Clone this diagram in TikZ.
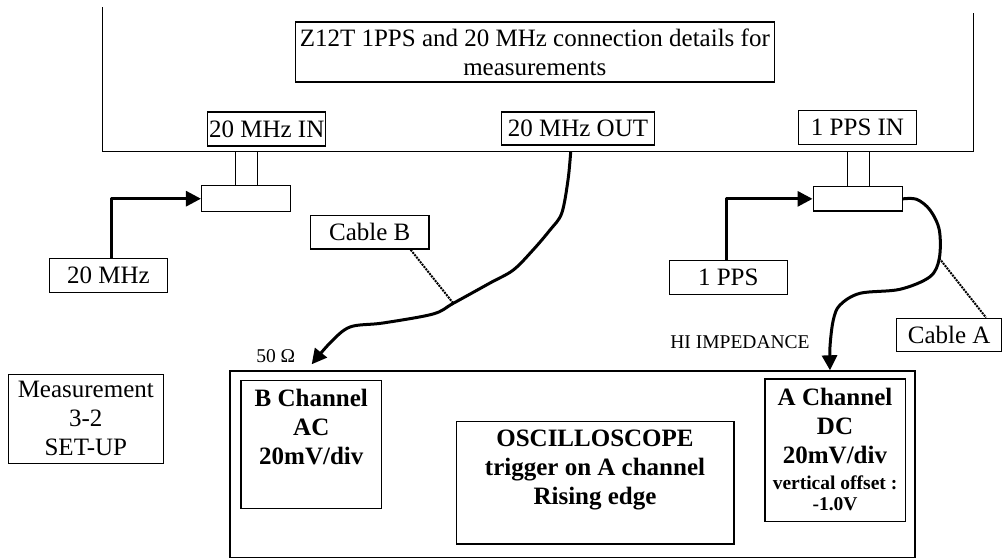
\documentclass[tikz,border=0pt]{standalone}
\usepackage{fontspec}
\setmainfont{Liberation Serif}
\usetikzlibrary{arrows.meta}
\begin{document}
\begin{tikzpicture}[x=1pt,y=-1pt,
  bx/.style={draw,line width=1.5pt,inner sep=0pt,rectangle,align=center,font=\fontsize{25}{29}\selectfont},
  txt/.style={inner sep=0pt,align=center,font=\fontsize{25}{29}\selectfont\bfseries},
  smalltxt/.style={inner sep=0pt,align=center,font=\fontsize{19.5}{21}\selectfont},
  wall/.style={line width=1.5pt},
  cable/.style={line width=3pt,line join=round},
  tiparrow/.style={-{Triangle[length=15pt,width=15pt]}},
  lead/.style={densely dotted,line width=2pt}]
\useasboundingbox (0,0) rectangle (1005,558);

% Z12T receiver
\coordinate (mTL) at (102.3,7);
\coordinate (mBL) at (102.3,151.7);
\coordinate (mBR) at (973.3,151.7);
\coordinate (mTR) at (973.3,13);
\draw[wall] (mTL) -- (mBL) -- (mBR) -- (mTR);

\node[bx,minimum width=479pt,minimum height=60pt] (title) at (534.8,52)
  {Z12T 1PPS and 20 MHz connection details for\\measurements};
\node[bx,minimum width=118pt,minimum height=34pt] (in20) at (266.7,129) {20 MHz IN};
\node[bx,minimum width=153pt,minimum height=33pt] (out20) at (578,128.5) {20 MHz OUT};
\node[bx,minimum width=118.4pt,minimum height=34.4pt] (ppsin) at (857.5,127.5) {1 PPS IN};

% T connectors
\node[bx,minimum width=88.6pt,minimum height=26pt] (tL) at (246,198.7) {};
\node[bx,minimum width=89pt,minimum height=24.3pt] (tR) at (857.8,198.85) {};
\draw[wall] (235.7,151.7) -- (235.7,0 |- tL.north);
\draw[wall] (257.7,151.7) -- (257.7,0 |- tL.north);
\draw[wall] (847.3,151.7) -- (847.3,0 |- tR.north);
\draw[wall] (869.3,151.7) -- (869.3,0 |- tR.north);

% sources
\node[bx,minimum width=118.4pt,minimum height=34pt] (src20) at (108.5,275.7) {20 MHz};
\node[bx,minimum width=118pt,minimum height=33.6pt] (srcpps) at (728.3,277.5) {1 PPS};
\draw[cable,tiparrow] ([xshift=2.5pt]src20.north) |- (tL.west);
\draw[cable,tiparrow] ([xshift=-2.3pt]srcpps.north) |- (tR.west);

% cable labels
\node[bx,minimum width=118.7pt,minimum height=33.7pt] (cabB) at (369.7,232.2) {Cable B};
\node[bx,minimum width=105pt,minimum height=33.4pt] (cabA) at (949.2,335) {Cable A};

% oscilloscope
\node[bx,minimum width=685pt,minimum height=186.3pt] (osc) at (572.5,464.2) {};
\node[bx,minimum width=140.7pt,minimum height=128pt] (bch) at (311.35,444.7) {};
\node[bx,minimum width=277.3pt,minimum height=122.3pt] (scope) at (595.35,482.85) {};
\node[bx,minimum width=140.7pt,minimum height=142.7pt] (ach) at (835.35,450.35) {};
\node[txt] (bchT) at (311.3,427.5) {B Channel\\AC\\20mV/div};
\node[txt] (scopeT) at (595,469.5) {OSCILLOSCOPE\\trigger on A channel\\Rising edge};
\node[txt] (achT) at (835,426.5) {A Channel\\DC\\20mV/div};
\node[smalltxt,font=\fontsize{19.5}{21}\selectfont\bfseries] (achO) at (835,493.5) {vertical offset :\\-1.0V};

\node[bx,minimum width=155pt,minimum height=89pt] (meas) at (85.8,418.8) {Measurement\\3-2\\SET-UP};

% cables
\coordinate (outB) at (570.7,151.7);
\coordinate (tipB) at (311.7,364.3);
\coordinate (jB) at (453.3,303.3);
\coordinate (jA) at (939.3,258.3);
\draw[cable,tiparrow] plot[smooth,tension=0.55] coordinates {(outB) (568,180) (561.7,213.3) (550,230) (533,250) (513.3,270) (490,283) (jB) (433,314) (383,323) (350,327) (330,343) (tipB)};
\draw[cable,tiparrow] plot[smooth,tension=0.55] coordinates {(tR.east) (916.7,199.3) (930,210) (939.3,230) (jA) (930,276.7) (900,289.3) (860,293.3) (840,305) (833.3,320) (830,346.7) (830,0 |- osc.north)};
\draw[lead] (410.7,0 |- cabB.south) -- (jB);
\draw[lead] (jA) -- (986,0 |- cabA.north);

\node[smalltxt] (ohm) at (275.7,355.7) {50 Ω};
\node[smalltxt] (hi) at (740,341.7) {HI IMPEDANCE};
\end{tikzpicture}
\end{document}
